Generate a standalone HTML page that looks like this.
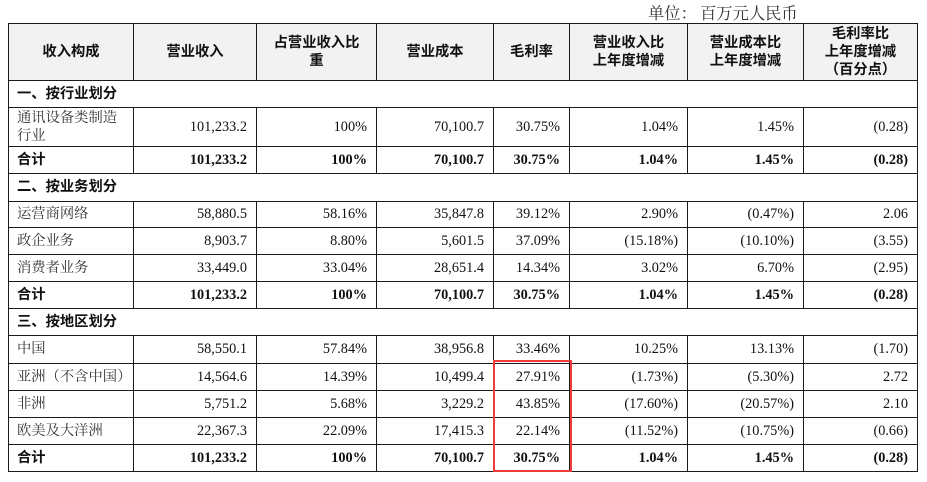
<!DOCTYPE html>
<html>
<head>
<meta charset="utf-8">
<style>
  html, body { margin:0; padding:0; background:#fff; }
  body { width:927px; height:482px; position:relative; overflow:hidden; }
  .unit {
    position:absolute; top:1px; font-size:16.3px; line-height:22px;
    font-family:"Noto Serif CJK SC","Liberation Serif",serif; color:#333; white-space:nowrap;
  }
  .grid {
    position:absolute; left:8px; top:23px;
    display:grid;
    grid-template-columns:124px 122px 119px 116px 75px 117px 115px 113px;
    grid-template-rows:56px 26px 38px 26px 27px 25px 26px 26px 26px 26px 27px 26px 26px 26px 26px;
    gap:1px; background:#1a1a1a; border:1px solid #1a1a1a;
  }
  .grid > div {
    background:#fff; display:flex; align-items:center; justify-content:flex-end;
    padding-right:9px; box-sizing:border-box;
    font-family:"Liberation Serif","Noto Serif CJK SC",serif; font-size:14.3px; color:#111;
    line-height:18.3px; white-space:nowrap;
  }
  .grid > div.h {
    background:#f2f2f2; justify-content:center; text-align:center; padding:0;
    font-family:"Liberation Sans","Noto Sans CJK SC",sans-serif; font-weight:bold; font-size:14.3px; color:#111;
  }
  .grid > div.sec {
    grid-column:1 / -1; justify-content:flex-start; padding-left:8px;
    font-family:"Liberation Sans","Noto Sans CJK SC",sans-serif; font-weight:bold; color:#111;
  }
  .grid > div.l {
    justify-content:flex-start; padding-left:8px;
    font-family:"Liberation Serif","Noto Serif CJK SC",serif; color:#333;
  }
  .grid > div.tl {
    justify-content:flex-start; padding-left:8px;
    font-family:"Liberation Sans","Noto Sans CJK SC",sans-serif; font-weight:bold; color:#111;
  }
  .grid > div.b { font-weight:bold; }
  .red {
    position:absolute; left:493px; top:360px; width:79px; height:112px;
    box-sizing:border-box; border:2.5px solid #f03c3c;
  }
</style>
</head>
<body>
<div class="unit" style="left:648px;">单位：</div>
<div class="unit" style="left:700px;">百万元人民币</div>
<div class="grid">
  <div class="h">收入构成</div>
  <div class="h">营业收入</div>
  <div class="h">占营业收入比<br>重</div>
  <div class="h">营业成本</div>
  <div class="h">毛利率</div>
  <div class="h">营业收入比<br>上年度增减</div>
  <div class="h">营业成本比<br>上年度增减</div>
  <div class="h">毛利率比<br>上年度增减<br>（百分点）</div>

  <div class="sec">一、按行业划分</div>

  <div class="l">通讯设备类制造<br>行业</div>
  <div>101,233.2</div><div>100%</div><div>70,100.7</div><div>30.75%</div><div>1.04%</div><div>1.45%</div><div>(0.28)</div>

  <div class="tl">合计</div>
  <div class="b">101,233.2</div><div class="b">100%</div><div class="b">70,100.7</div><div class="b">30.75%</div><div class="b">1.04%</div><div class="b">1.45%</div><div class="b">(0.28)</div>

  <div class="sec">二、按业务划分</div>

  <div class="l">运营商网络</div>
  <div>58,880.5</div><div>58.16%</div><div>35,847.8</div><div>39.12%</div><div>2.90%</div><div>(0.47%)</div><div>2.06</div>

  <div class="l">政企业务</div>
  <div>8,903.7</div><div>8.80%</div><div>5,601.5</div><div>37.09%</div><div>(15.18%)</div><div>(10.10%)</div><div>(3.55)</div>

  <div class="l">消费者业务</div>
  <div>33,449.0</div><div>33.04%</div><div>28,651.4</div><div>14.34%</div><div>3.02%</div><div>6.70%</div><div>(2.95)</div>

  <div class="tl">合计</div>
  <div class="b">101,233.2</div><div class="b">100%</div><div class="b">70,100.7</div><div class="b">30.75%</div><div class="b">1.04%</div><div class="b">1.45%</div><div class="b">(0.28)</div>

  <div class="sec">三、按地区划分</div>

  <div class="l">中国</div>
  <div>58,550.1</div><div>57.84%</div><div>38,956.8</div><div>33.46%</div><div>10.25%</div><div>13.13%</div><div>(1.70)</div>

  <div class="l">亚洲（不含中国）</div>
  <div>14,564.6</div><div>14.39%</div><div>10,499.4</div><div>27.91%</div><div>(1.73%)</div><div>(5.30%)</div><div>2.72</div>

  <div class="l">非洲</div>
  <div>5,751.2</div><div>5.68%</div><div>3,229.2</div><div>43.85%</div><div>(17.60%)</div><div>(20.57%)</div><div>2.10</div>

  <div class="l">欧美及大洋洲</div>
  <div>22,367.3</div><div>22.09%</div><div>17,415.3</div><div>22.14%</div><div>(11.52%)</div><div>(10.75%)</div><div>(0.66)</div>

  <div class="tl">合计</div>
  <div class="b">101,233.2</div><div class="b">100%</div><div class="b">70,100.7</div><div class="b">30.75%</div><div class="b">1.04%</div><div class="b">1.45%</div><div class="b">(0.28)</div>
</div>
<div class="red"></div>
</body>
</html>
